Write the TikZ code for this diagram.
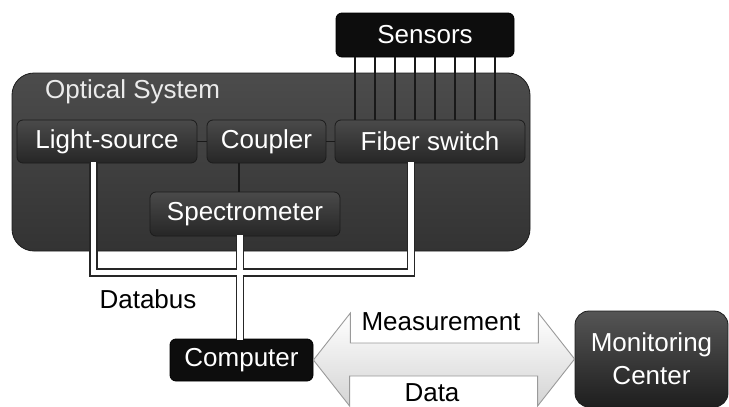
\documentclass[tikz,border=0pt]{standalone}
\usepackage{fontspec}
\setmainfont{Liberation Sans}
\usetikzlibrary{calc}
\definecolor{optTop}{HTML}{4C4C4C}
\definecolor{optBot}{HTML}{333333}
\definecolor{boxTop}{HTML}{4A4A4A}
\definecolor{boxBot}{HTML}{262626}
\definecolor{boxLine}{HTML}{1C1C1C}
\definecolor{monTop}{HTML}{555555}
\definecolor{monBot}{HTML}{1E1E1E}
\definecolor{arrLine}{HTML}{9A9A9A}
\definecolor{arrBot}{HTML}{D4D4D4}
\begin{document}
\begin{tikzpicture}[x=1pt,y=-1pt,
  font=\fontsize{26}{34}\selectfont,
  optbox/.style={draw=boxLine, line width=0.8pt, rounded corners=22pt, top color=optTop, bottom color=optBot},
  innerbox/.style={draw=boxLine, line width=0.8pt, rounded corners=6pt, top color=boxTop, bottom color=boxBot, text=white, inner sep=0pt},
  blackbox/.style={draw=black, line width=0.8pt, rounded corners=6pt, fill=black!95, text=white, inner sep=0pt},
  monbox/.style={draw=boxLine, line width=0.8pt, rounded corners=14pt, top color=monTop, bottom color=monBot, text=white, inner sep=0pt, align=center},
  link/.style={draw=black!90, line width=1.4pt},
  busout/.style={draw=black!85, line width=8.5pt, line join=miter},
  busin/.style={draw=white, line width=5.5pt, line join=miter},
  plain/.style={text=black, inner sep=0pt}]
\useasboundingbox (0,0) rectangle (729,407);

% optical system frame
\node[optbox, minimum width=518pt, minimum height=178pt] (opt) at (271,162) {};
\node[text=white!92!black, anchor=west, inner sep=0pt] (optlabel) at (45,92) {Optical System};

% boxes
\node[blackbox, minimum width=178pt, minimum height=44pt] (sens) at (425,35) {Sensors};
\node[innerbox, minimum width=180pt, minimum height=43pt] (ls) at (107,141.5) {Light-source};
\node[innerbox, minimum width=119pt, minimum height=43pt] (cp) at (266.5,141.5) {Coupler};
\node[innerbox, minimum width=190pt, minimum height=43pt] (fs) at (430,141.5) {Fiber switch};
\node[innerbox, minimum width=190pt, minimum height=44pt] (sp) at (245,214) {Spectrometer};
\node[blackbox, minimum width=143pt, minimum height=42pt] (comp) at (241.5,360) {Computer};
\node[monbox, minimum width=153pt, minimum height=96pt] (mon) at (651.5,359) {Monitoring\\[-1pt]Center};

% connectors inside optical system
\draw[link] (ls.east) -- (cp.west);
\draw[link] (cp.east) -- (fs.west);
\draw[link] (cp.south -| 239,0) -- (sp.north -| 239,0);

% sensor fibres
\foreach \i in {0,...,7}{
  \coordinate (sx\i) at (355+20*\i,0);
  \draw[link] (sens.south -| sx\i) -- (fs.north -| sx\i);
}

% databus
\coordinate (bl) at (93.5,272.5);
\coordinate (br) at (411,272.5);
\coordinate (bs) at (240,0);
\draw[busout] (ls.south -| bl) -- (bl) -- (br) -- (fs.south -| br);
\draw[busout] (sp.south -| bs) -- (comp.north -| bs);
\draw[busin] ($(ls.south -| bl)+(0,-1)$) -- (bl) -- (br) -- ($(fs.south -| br)+(0,-1)$);
\draw[busin] ($(sp.south -| bs)+(0,-1)$) -- ($(comp.north -| bs)+(0,1)$);
\node[plain] (databus) at (148,299) {Databus};

% double arrow
\coordinate (al) at (comp.east);
\coordinate (ar) at (mon.west);
\path[draw=arrLine, line width=0.9pt, line join=miter, top color=white, bottom color=arrBot]
  (al) -- ++(37,-47) -- ++(0,30) -- ++(188,0) -- ++(0,-30) -- (ar)
  -- ++(-37,47) -- ++(0,-30) -- ++(-188,0) -- ++(0,30) -- cycle;
\node[plain] (meas) at (441,322) {Measurement};
\node[plain] (data) at (432,393) {Data};
\end{tikzpicture}
\end{document}
